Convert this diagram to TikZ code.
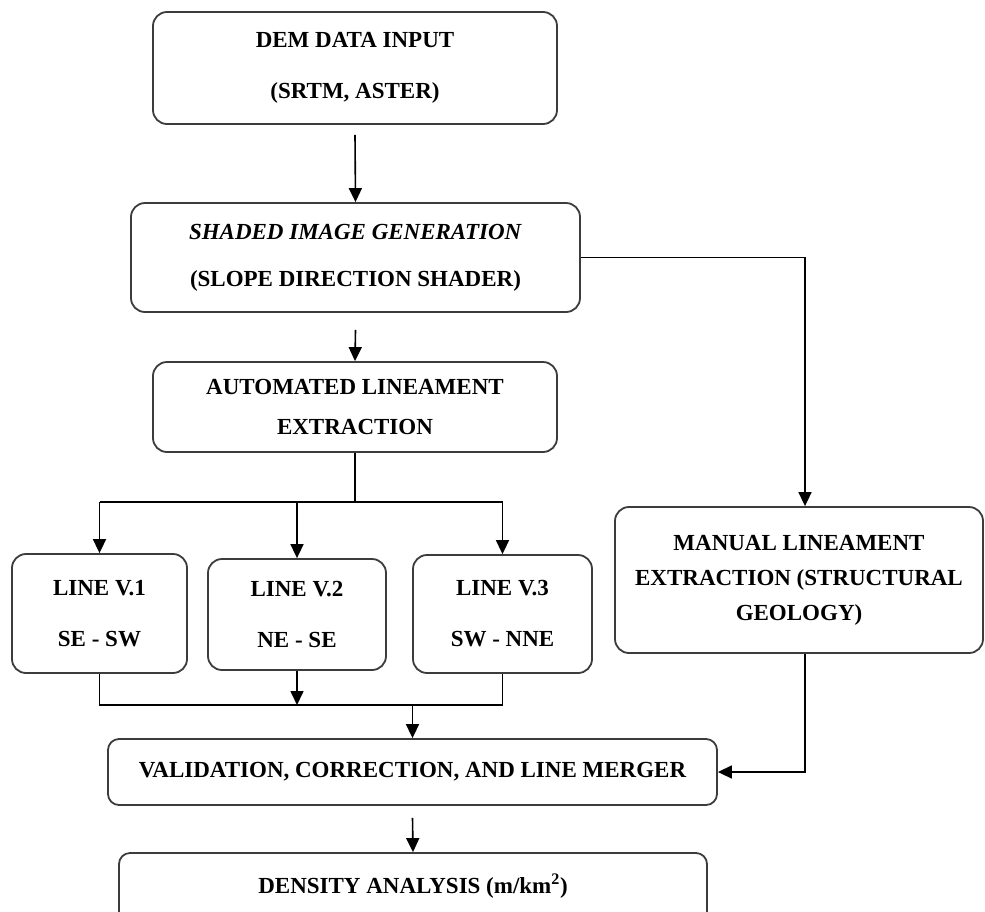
\documentclass[tikz,border=0pt]{standalone}
\usepackage{fontspec}
\setmainfont{Liberation Serif}
\usetikzlibrary{arrows.meta}
\definecolor{boxgray}{HTML}{3C3C3C}
\begin{document}
\begin{tikzpicture}[x=1pt,y=-1pt,
  box/.style={draw=boxgray, line width=1.8pt, rounded corners=14pt, align=center, inner sep=0pt},
  txt/.style={font=\bfseries\fontsize{23}{#1}\selectfont},
  conn/.style={line width=1.6pt, draw=black},
  arr/.style={conn, -{Triangle[length=14pt,width=13pt]}}]
\useasboundingbox (0,0) rectangle (985,911);
\clip (0,0) rectangle (985,911);

% boxes
\node[box, txt=51, minimum width=404pt, minimum height=112pt] (dem) at (355,68)
  {DEM DATA INPUT\\(SRTM, ASTER)};
\node[box, txt=47, minimum width=449pt, minimum height=109pt] (shaded) at (355.5,257.5)
  {\textit{SHADED IMAGE GENERATION}\\(SLOPE DIRECTION SHADER)};
\node[box, txt=40, minimum width=404pt, minimum height=90pt] (auto) at (355,407)
  {AUTOMATED LINEAMENT\\EXTRACTION};
\node[box, txt=51, minimum width=175pt, minimum height=119pt] (v1) at (99.5,613.5)
  {LINE V.1\\SE - SW};
\node[box, txt=51, minimum width=178pt, minimum height=111pt] (v2) at (297,614.5)
  {LINE V.2\\NE - SE};
\node[box, txt=51, minimum width=179pt, minimum height=118pt] (v3) at (502.5,614)
  {LINE V.3\\SW - NNE};
\node[box, txt=35, minimum width=368pt, minimum height=146pt] (manual) at (799,580)
  {MANUAL LINEAMENT\\EXTRACTION (STRUCTURAL\\GEOLOGY)};
\node[box, txt=28, minimum width=609pt, minimum height=66pt, rounded corners=11pt] (valid) at (412.5,772)
  {VALIDATION, CORRECTION, AND LINE MERGER};
\node[box, minimum width=588pt, minimum height=110pt, rounded corners=11pt] (dens) at (413,908) {};
\node[txt=28, inner sep=0pt] (denslabel) at (413,886) {DENSITY ANALYSIS (m/km\textsuperscript{2})};

% coordinates
\coordinate (hub) at (354,502);
\coordinate (bus) at (0,705);
\coordinate (mx) at (805,0);

% connectors
\draw[arr] ([yshift=-10pt]dem.south) -- (shaded.north);
\draw[arr] ([yshift=-17pt]shaded.south) -- (auto.north);

\draw[conn] (auto.south) -- (auto.south |- hub);
\draw[conn] (v1.north |- hub) -- (v3.north |- hub);
\draw[arr] (v1.north |- hub) -- (v1.north);
\draw[arr] (v2.north |- hub) -- (v2.north);
\draw[arr] (v3.north |- hub) -- (v3.north);

\draw[conn] (v1.south) -- (v1.south |- bus) -- (v3.south |- bus) -- (v3.south);
\draw[arr] (v2.south) -- (v2.south |- bus);
\draw[arr] (valid.north |- bus) -- (valid.north);

\draw[arr] (shaded.east) -- (mx |- shaded.east) -- (mx |- manual.north);
\draw[arr] (mx |- manual.south) -- (mx |- valid.east) -- (valid.east);

\draw[arr] ([yshift=-12pt]valid.south) -- (dens.north);
\end{tikzpicture}
\end{document}
